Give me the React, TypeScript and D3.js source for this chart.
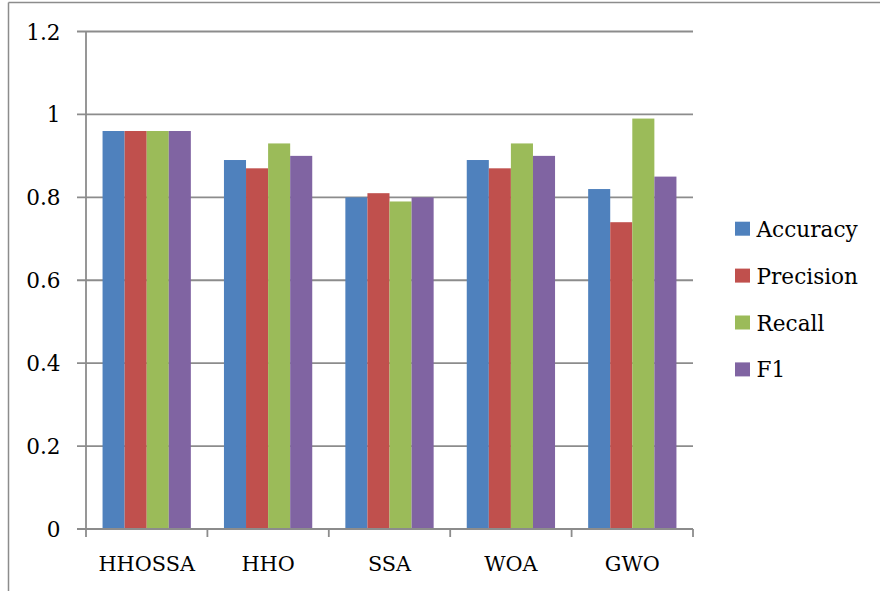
import React from "react";
import * as d3 from "d3";

const categories = ["HHOSSA", "HHO", "SSA", "WOA", "GWO"];
const seriesNames = ["Accuracy", "Precision", "Recall", "F1"];
const accuracy = [0.96, 0.89, 0.8, 0.89, 0.82];
const precision = [0.96, 0.87, 0.81, 0.87, 0.74];
const recall = [0.96, 0.93, 0.79, 0.93, 0.99];
const f1 = [0.96, 0.9, 0.8, 0.9, 0.85];
const yTicks = [0, 0.2, 0.4, 0.6, 0.8, 1, 1.2];
const colors = ["#4F81BD", "#C0504D", "#9BBB59", "#8064A2"];

const seriesValues = [accuracy, precision, recall, f1];

export default function App() {
  const W = 880;
  const H = 591;
  const left = 86;
  const right = 693;
  const top = 31.5;
  const bottom = 529;
  const font = "'DejaVu Serif', 'Liberation Serif', serif";
  const grid = "#8C8C8C";

  const x = d3.scaleBand<string>().domain(categories).range([left, right]).padding(0);
  const bw = x.bandwidth();
  const groupW = (bw * 4) / 5.5;
  const off = (bw - groupW) / 2;
  const xs = d3.scaleBand<string>().domain(seriesNames).range([off, off + groupW]).padding(0);
  const y = d3.scaleLinear().domain([0, 1.2]).range([bottom, top]);

  const fmt = (v: number) => (v === 0 || v === 1 ? String(v) : String(+v.toFixed(1)));

  return (
    <svg
      width={W}
      height={H}
      style={{ position: "absolute", left: 0, top: 0, background: "#fff" }}
      fontFamily={font}
    >
      {/* outer frame */}
      <line x1={8.5} y1={2.5} x2={W} y2={2.5} stroke={grid} strokeWidth={1.5} />
      <line x1={8.5} y1={2.5} x2={8.5} y2={H} stroke={grid} strokeWidth={1.5} />

      {/* gridlines + y ticks */}
      {yTicks.map((t) => (
        <g key={t}>
          <line x1={77} x2={right} y1={y(t)} y2={y(t)} stroke={grid} strokeWidth={1.8} />
          <text x={60.5} y={y(t) + 8} textAnchor="end" fontSize={21.6} fill="#000">
            {fmt(t)}
          </text>
        </g>
      ))}

      {/* y axis */}
      <line x1={left} x2={left} y1={top} y2={bottom + 8} stroke={grid} strokeWidth={1.8} />

      {/* bars */}
      {categories.map((c, i) => (
        <g key={c}>
          {seriesNames.map((s, j) => {
            const v = seriesValues[j][i];
            return (
              <rect
                key={s}
                x={(x(c) as number) + (xs(s) as number)}
                y={y(v)}
                width={xs.bandwidth()}
                height={y(0) - y(v)}
                fill={colors[j]}
              />
            );
          })}
        </g>
      ))}

      {/* x axis */}
      <line x1={left} x2={right} y1={bottom} y2={bottom} stroke={grid} strokeWidth={1.8} />
      {categories.map((c) => (
        <line
          key={"t" + c}
          x1={(x(c) as number) + bw}
          x2={(x(c) as number) + bw}
          y1={bottom}
          y2={bottom + 8}
          stroke={grid}
          strokeWidth={1.8}
        />
      ))}
      {categories.map((c) => (
        <text
          key={"l" + c}
          x={(x(c) as number) + bw / 2}
          y={570.7}
          textAnchor="middle"
          fontSize={20.8}
          fill="#000"
        >
          {c}
        </text>
      ))}

      {/* legend */}
      {seriesNames.map((s, j) => (
        <g key={"lg" + s} transform={`translate(735, ${236.7 + j * 46.9})`}>
          <rect x={0} y={-15} width={15} height={14} fill={colors[j]} />
          <text x={21.5} y={0} fontSize={21.6} fill="#000">
            {s}
          </text>
        </g>
      ))}
    </svg>
  );
}
